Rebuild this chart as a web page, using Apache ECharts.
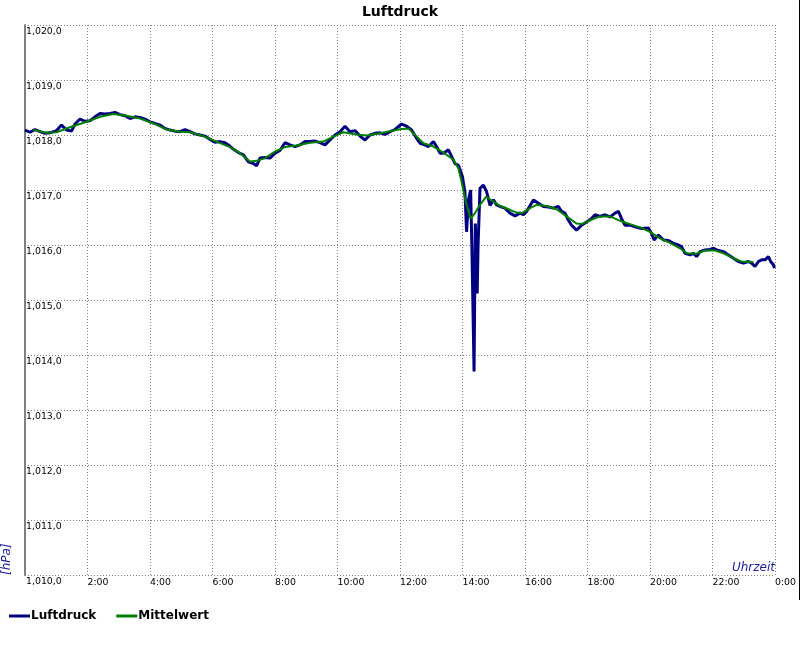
<!DOCTYPE html>
<html>
<head>
<meta charset="utf-8">
<script src="https://cdn.jsdelivr.net/npm/echarts@6/dist/echarts.min.js"></script>
<style>html,body{margin:0;padding:0;background:#fff}#c{width:800px;height:650px}</style>
</head>
<body>
<div id="c"></div>
<script>
// Zeit in Stunden (0..24)
const luftdruckZeit = [0.00,0.16,0.32,0.48,0.64,0.80,1.01,1.17,1.33,1.49,1.60,1.76,1.92,2.08,2.24,2.40,2.56,2.72,2.88,3.04,3.20,3.36,3.52,3.68,3.84,4.00,4.16,4.32,4.48,4.64,4.80,4.96,5.12,5.28,5.44,5.60,5.76,5.92,6.08,6.24,6.40,6.51,6.67,6.83,6.99,7.15,7.31,7.41,7.52,7.68,7.84,8.00,8.16,8.32,8.48,8.64,8.80,8.96,9.12,9.28,9.44,9.60,9.76,9.92,10.08,10.24,10.40,10.56,10.72,10.88,11.04,11.20,11.36,11.52,11.68,11.84,12.05,12.21,12.37,12.53,12.64,12.80,12.91,13.07,13.17,13.28,13.39,13.55,13.65,13.76,13.87,13.92,14.00,14.08,14.13,14.19,14.26,14.30,14.37,14.41,14.44,14.47,14.50,14.56,14.67,14.77,14.88,14.99,15.09,15.20,15.36,15.52,15.68,15.84,15.95,16.05,16.11,16.27,16.43,16.59,16.75,16.91,17.07,17.17,17.28,17.39,17.49,17.65,17.81,17.97,18.13,18.24,18.40,18.56,18.72,18.88,18.99,19.09,19.20,19.36,19.52,19.73,19.95,20.05,20.13,20.27,20.43,20.59,20.75,20.91,21.01,21.12,21.28,21.39,21.49,21.60,21.76,21.92,22.03,22.19,22.35,22.51,22.67,22.83,22.99,23.15,23.25,23.36,23.47,23.57,23.68,23.79,23.86,23.95,23.98];
const luftdruckWert = [1018.09,1018.05,1018.10,1018.06,1018.03,1018.04,1018.08,1018.18,1018.09,1018.07,1018.20,1018.29,1018.25,1018.26,1018.33,1018.39,1018.38,1018.39,1018.41,1018.37,1018.35,1018.30,1018.33,1018.32,1018.29,1018.24,1018.21,1018.18,1018.12,1018.09,1018.07,1018.06,1018.10,1018.06,1018.02,1018.00,1017.98,1017.92,1017.87,1017.88,1017.86,1017.82,1017.74,1017.68,1017.64,1017.51,1017.48,1017.44,1017.58,1017.59,1017.58,1017.67,1017.72,1017.86,1017.82,1017.79,1017.82,1017.88,1017.88,1017.89,1017.86,1017.82,1017.91,1018.00,1018.06,1018.16,1018.06,1018.08,1017.98,1017.91,1018.00,1018.03,1018.04,1018.01,1018.06,1018.10,1018.20,1018.16,1018.09,1017.94,1017.85,1017.82,1017.79,1017.88,1017.79,1017.67,1017.67,1017.73,1017.61,1017.48,1017.45,1017.45,1017.24,1016.94,1016.24,1016.82,1017.00,1015.97,1013.70,1016.39,1015.90,1015.12,1016.03,1017.03,1017.09,1016.97,1016.72,1016.82,1016.73,1016.70,1016.67,1016.58,1016.53,1016.58,1016.55,1016.61,1016.64,1016.82,1016.76,1016.70,1016.69,1016.67,1016.70,1016.61,1016.58,1016.45,1016.36,1016.27,1016.36,1016.42,1016.48,1016.55,1016.52,1016.55,1016.51,1016.58,1016.61,1016.48,1016.36,1016.36,1016.33,1016.30,1016.31,1016.21,1016.09,1016.18,1016.09,1016.08,1016.03,1016.00,1015.97,1015.85,1015.82,1015.85,1015.79,1015.88,1015.91,1015.92,1015.94,1015.90,1015.88,1015.82,1015.76,1015.70,1015.67,1015.70,1015.67,1015.61,1015.70,1015.73,1015.73,1015.79,1015.70,1015.64,1015.58];

const mittelwertZeit = [0.27,0.69,1.01,1.44,1.97,2.40,2.83,3.25,3.68,4.11,4.53,4.96,5.28,5.71,6.13,6.56,6.88,7.20,7.41,7.68,8.00,8.32,8.69,9.12,9.55,9.87,10.19,10.61,10.93,11.36,11.79,12.05,12.27,12.48,12.75,13.07,13.39,13.71,13.87,13.97,14.08,14.19,14.26,14.40,14.56,14.76,14.93,15.20,15.52,15.73,15.90,16.16,16.37,16.69,17.01,17.33,17.65,17.81,18.08,18.40,18.72,19.04,19.36,19.68,20.00,20.32,20.64,20.96,21.17,21.49,21.76,22.08,22.35,22.67,22.93,23.31];
const mittelwertWert = [1018.09,1018.04,1018.05,1018.14,1018.24,1018.33,1018.38,1018.35,1018.30,1018.21,1018.10,1018.06,1018.05,1017.98,1017.88,1017.78,1017.67,1017.52,1017.53,1017.58,1017.70,1017.78,1017.81,1017.86,1017.88,1017.97,1018.05,1018.01,1017.99,1018.03,1018.08,1018.11,1018.12,1018.00,1017.85,1017.79,1017.68,1017.55,1017.39,1017.15,1016.85,1016.61,1016.48,1016.58,1016.73,1016.88,1016.81,1016.71,1016.64,1016.59,1016.58,1016.67,1016.73,1016.71,1016.65,1016.52,1016.39,1016.38,1016.45,1016.52,1016.52,1016.44,1016.38,1016.32,1016.24,1016.12,1016.04,1015.94,1015.85,1015.84,1015.90,1015.90,1015.85,1015.76,1015.70,1015.69];

const xTicks = [0,2,4,6,8,10,12,14,16,18,20,22,24];
const yMin = 1010, yMax = 1020, yStep = 1;

const zip = (a, b) => a.map((t, i) => [t, b[i]]);
const FONT = 'DejaVu Sans';

const chart = echarts.init(document.getElementById('c'), null, {renderer: 'canvas'});
chart.setOption({
  animation: false,
  backgroundColor: '#ffffff',
  title: {
    text: 'Luftdruck', left: 'center', top: 0,
    textStyle: {fontFamily: FONT, fontSize: 14, fontWeight: 'bold', color: '#000'}
  },
  grid: {left: 25, right: 25, top: 25, bottom: 75, containLabel: false},
  legend: {
    left: 9, top: 610, padding: 0, itemWidth: 21, itemHeight: 3, itemGap: 20, icon: 'rect',
    textStyle: {fontFamily: FONT, fontSize: 12, fontWeight: 'bold', color: '#000', padding: [0, 0, 6, -4]},
    data: ['Luftdruck', 'Mittelwert']
  },
  xAxis: {
    type: 'value', min: xTicks[0], max: xTicks[xTicks.length - 1], interval: 2,
    axisLine: {show: false}, axisTick: {show: false},
    axisLabel: {
      showMinLabel: false, showMaxLabel: true, align: 'left', margin: 3,
      fontFamily: FONT, fontSize: 9.4, color: '#000',
      formatter: v => (v % 24) + ':00'
    },
    splitLine: {show: true, lineStyle: {color: '#808080', type: [1, 2], width: 1}}
  },
  yAxis: {
    type: 'value', min: yMin, max: yMax, interval: yStep,
    axisLine: {show: true, onZero: false, lineStyle: {color: '#808080', width: 2}},
    axisTick: {show: false},
    axisLabel: {
      inside: true, margin: 1, align: 'left', verticalAlign: 'top', padding: [2, 0, 0, 0],
      fontFamily: FONT, fontSize: 9.4, color: '#000',
      formatter: v => Math.floor(v / 1000) + ',' + String(Math.round(v) % 1000).padStart(3, '0') + ',0'
    },
    splitLine: {show: true, lineStyle: {color: '#808080', type: [1, 2], width: 1}}
  },
  graphic: [
    {type: 'text', x: 13, y: 575, rotation: Math.PI / 2,
     style: {text: '[hPa]', fontFamily: FONT, fontSize: 12, fontStyle: 'italic', fill: '#1c1c9a', textAlign: 'left', textVerticalAlign: 'bottom'}},
    {type: 'text', x: 775, y: 574,
     style: {text: 'Uhrzeit', fontFamily: FONT, fontSize: 12, fontStyle: 'italic', fill: '#1c1c9a', textAlign: 'right', textVerticalAlign: 'bottom'}},
    {type: 'line', shape: {x1: 799.5, y1: 0, x2: 799.5, y2: 600}, style: {stroke: '#000', lineWidth: 1}}
  ],
  series: [
    {
      name: 'Luftdruck', type: 'line', data: zip(luftdruckZeit, luftdruckWert),
      showSymbol: false, symbol: 'none', smooth: false,
      lineStyle: {color: '#000080', width: 3}, itemStyle: {color: '#000080'}, z: 2
    },
    {
      name: 'Mittelwert', type: 'line', data: zip(mittelwertZeit, mittelwertWert),
      showSymbol: false, symbol: 'none', smooth: false,
      lineStyle: {color: '#008000', width: 2}, itemStyle: {color: '#008000'}, z: 3
    }
  ]
});
</script>
</body>
</html>
